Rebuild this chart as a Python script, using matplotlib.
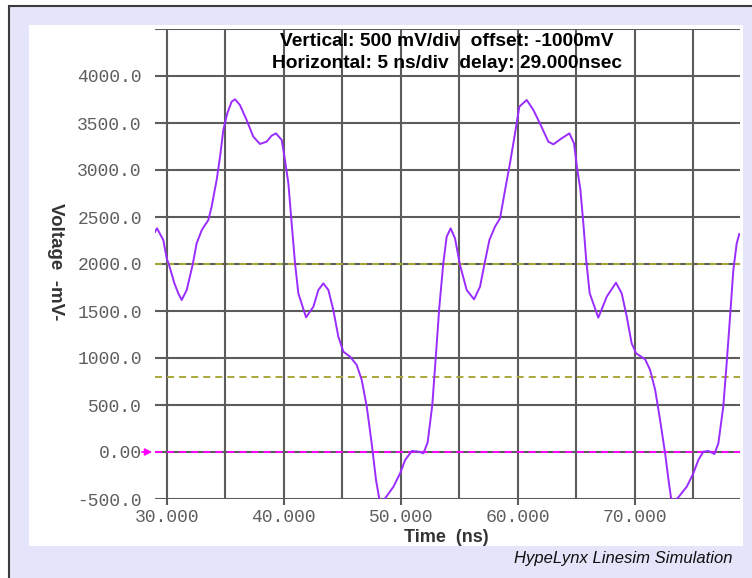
import matplotlib
matplotlib.use('Agg')
import matplotlib.pyplot as plt
from matplotlib.patches import Rectangle

# waveform (time in ns, voltage in mV)
t_ns = [29.00, 29.17, 29.71, 30.00, 30.20, 30.66, 30.99, 31.28, 31.71, 32.22,
        32.56, 33.00, 33.56, 33.84, 34.27, 34.56, 34.84, 35.18, 35.55, 35.84,
        36.26, 36.83, 37.40, 37.97, 38.54, 38.97, 39.34, 39.83, 40.11, 40.40,
        40.68, 40.97, 41.25, 41.91, 42.54, 42.96, 43.39, 43.82, 44.24, 44.67,
        45.10, 45.67, 46.24, 46.67, 47.10, 47.52, 47.89, 48.18, 48.45, 48.67,
        49.38, 49.95, 50.38, 50.95, 51.52, 51.94, 52.30, 52.70, 53.00, 53.30,
        53.64, 53.93, 54.27, 54.64, 55.07, 55.64, 56.27, 56.78, 57.15, 57.58,
        58.06, 58.49, 58.92, 59.34, 59.77, 60.14, 60.77, 61.34, 61.90, 62.62,
        63.05, 63.76, 64.42, 64.81, 65.10, 65.35, 65.60, 65.85, 66.15, 66.89,
        67.61, 68.40, 68.89, 69.32, 69.74, 70.12, 70.89, 71.32, 71.75, 72.17,
        72.60, 72.89, 73.11, 73.40, 73.73, 74.45, 75.01, 75.44, 75.87, 76.30,
        76.81, 77.15, 77.57, 77.86, 78.15, 78.43, 78.72, 78.94]
v_mv = [2340, 2380, 2255, 2060, 1990, 1794, 1688, 1617, 1723, 1993,
        2220, 2362, 2468, 2610, 2894, 3142, 3426, 3603, 3727, 3752,
        3691, 3532, 3355, 3277, 3301, 3365, 3390, 3319, 3106, 2858,
        2433, 2007, 1688, 1433, 1546, 1723, 1794, 1723, 1511, 1227,
        1067, 1014, 926, 766, 482, 92, -298, -504, -520, -493,
        -369, -227, -85, 11, 4, -14, 100, 500, 1014, 1540,
        2007, 2291, 2379, 2273, 1989, 1723, 1624, 1759, 1993, 2255,
        2397, 2486, 2787, 3071, 3390, 3674, 3745, 3638, 3496, 3301,
        3273, 3337, 3390, 3284, 3000, 2800, 2450, 2050, 1690, 1429,
        1652, 1801, 1688, 1440, 1156, 1050, 986, 872, 660, 340,
        -14, -298, -493, -520, -482, -369, -227, -85, 4, 11,
        -21, 92, 482, 943, 1440, 1936, 2220, 2319]

# threshold / reference levels
threshold_mv = [2000, 800]
ref_mv = 0

x_major = [30, 40, 50, 60, 70]
x_minor = [35, 45, 55, 65, 75]
x_labels = ['30.000', '40.000', '50.000', '60.000', '70.000']
y_ticks = [-500, 0, 500, 1000, 1500, 2000, 2500, 3000, 3500, 4000, 4500]
y_labels = ['-500.0', '0.00', '500.0', '1000.0', '1500.0', '2000.0',
            '2500.0', '3000.0', '3500.0', '4000.0', '']

W, H = 752, 578
GRID = '#5c5c5c'
TICKFONT = 'Liberation Mono'


def main():
    fig = plt.figure(figsize=(W / 100, H / 100), dpi=100)
    fig.patch.set_facecolor('white')

    # lavender frame + white panel
    fig.add_artist(Rectangle((9 / W, -0.1), 1.2, 1 - 6 / H + 0.1, transform=fig.transFigure,
                             facecolor='#e4e4fa', edgecolor='#3a3a3a', lw=1.5, zorder=-2))
    fig.add_artist(Rectangle((29 / W, 1 - 546 / H), 714 / W, 521 / H, transform=fig.transFigure,
                             facecolor='white', edgecolor='none', zorder=-1))

    ax = fig.add_axes([155 / W, 1 - 499 / H, 585 / W, 470 / H])
    ax.set_zorder(2)
    ax.set_facecolor('none')
    ax.set_xlim(29, 79)
    ax.set_ylim(-500, 4500)
    for s in ax.spines.values():
        s.set_visible(False)

    ax.set_xticks(x_major)
    ax.set_xticklabels(x_labels)
    ax.set_xticks(x_minor, minor=True)
    ax.set_yticks(y_ticks)
    ax.set_yticklabels(y_labels)
    ax.tick_params(axis='x', which='major', direction='out', length=4.5, width=1.5,
                   color=GRID, pad=3, labelsize=13, labelcolor='#5e5e5e')
    ax.tick_params(axis='x', which='minor', length=0)
    ax.tick_params(axis='y', length=0, pad=9.5, labelsize=13, labelcolor='#5e5e5e')
    for lab in ax.get_xticklabels() + ax.get_yticklabels():
        lab.set_family(TICKFONT)

    ax.grid(True, which='both', color=GRID, lw=1.5)
    ax.set_axisbelow(True)

    for lvl in threshold_mv:
        ax.axhline(lvl, color='#a8a838', lw=1.4, ls=(0, (3.6, 2.6)), zorder=2)
    ax.axhline(ref_mv, color='#ff00ff', lw=1.4, ls=(0, (3.6, 2.6)), zorder=2)
    # small marker arrow for the reference level, left of the plot
    ax.annotate('', xy=(0, ref_mv), xycoords=('axes fraction', 'data'),
                xytext=(-13, 0), textcoords='offset pixels',
                arrowprops=dict(arrowstyle='-|>', color='#ff00ff', lw=1.3,
                                mutation_scale=10, shrinkA=0, shrinkB=2))

    ax.plot(t_ns, v_mv, color='#9a2cff', lw=1.4, zorder=3)

    fig.text(447 / W, 1 - 42 / H, 'Vertical: 500 mV/div  offset: -1000mV',
             ha='center', va='center', fontsize=13.8, fontweight='bold',
             family='Liberation Sans', color='black', zorder=5)
    fig.text(447 / W, 1 - 63 / H, 'Horizontal: 5 ns/div  delay: 29.000nsec',
             ha='center', va='center', fontsize=13.8, fontweight='bold',
             family='Liberation Sans', color='black', zorder=5)

    fig.text(55 / W, 1 - 262 / H, 'Voltage  -mV-', rotation=-90,
             ha='center', va='center', fontsize=13.5, fontweight='bold',
             family='Liberation Sans', color='#333333')
    fig.text(446 / W, 1 - 537 / H, 'Time  (ns)', ha='center', va='center',
             fontsize=13, fontweight='bold', family='Liberation Sans', color='#333333')
    fig.text(733 / W, 1 - 559 / H, 'HypeLynx Linesim Simulation', ha='right', va='center',
             fontsize=12, style='italic', family='Liberation Sans', color='#111111')

    fig.savefig('out.png', dpi=100)


if __name__ == "__main__":
    main()
